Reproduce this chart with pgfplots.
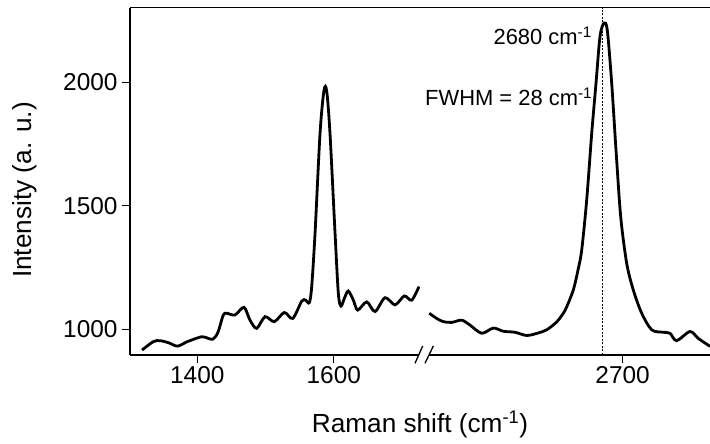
\documentclass[border=0pt]{standalone}
\usepackage{fontspec}
\setmainfont{Liberation Sans}
\usepackage{pgfplots}
\pgfplotsset{compat=1.18}
\pgfplotstableread{
x y
1319 916
1335.5 950
1345.3 954
1357.5 946
1371 932
1384.5 949
1406.4 970
1416.1 963
1422.6 960
1428.4 977
1432 1002
1438.1 1058
1443.1 1065
1455.2 1058
1468.4 1089
1477.2 1037
1487 1004
1499.2 1051
1512.8 1031
1527.5 1068
1539.8 1044
1553 1114
1558.8 1118
1564.1 1108
1567.6 1173
1572.5 1389
1579.8 1793
1585.6 1967
1589.6 1964
1594.4 1793
1601.8 1389
1606.6 1146
1610.5 1094
1615.4 1125
1621.2 1155
1628.6 1118
1635 1078
1648.2 1111
1660.4 1072
1675 1128
1689.7 1099
1703.3 1135
1714.1 1118
1724.8 1173
}\leftdata
\pgfplotstableread{
x y
2506.7 1065
2514.1 1044
2520.7 1031
2529.1 1028
2539.1 1037
2547.4 1017
2559.1 984
2570.7 1005
2580.7 992
2592.4 988
2604.1 975
2615.4 985
2624.1 998
2634.1 1030
2640.7 1065
2644.1 1091
2650.7 1159
2655.4 1240
2659.1 1321
2664.1 1524
2669.1 1793
2673.4 1996
2677.4 2185
2681.4 2240
2684.7 2210
2689.1 1996
2693.4 1726
2698.1 1456
2704.1 1267
2710.7 1159
2719.1 1065
2729.1 998
2740.7 988
2747.4 984
2754.0 954
2767.4 991
2775.7 963
2787.4 931
}\rightdata
\begin{document}
\begin{tikzpicture}
\useasboundingbox (0bp,0bp) rectangle (710bp,444bp);
\pgfplotsset{
  every axis/.append style={
    scale only axis, height=347.3bp, ymin=896, ymax=2302,
    axis line style={line width=1.3bp},
    tick style={line width=1.3bp, black},
    major tick length=8bp,
    clip=false,
    /pgf/number format/assume math mode=true,
    /pgf/number format/1000 sep={},
    tick label style={font=\fontsize{24.5}{28}\selectfont},
    anchor=south west,
  }
}
\begin{axis}[at={(130bp,89bp)}, width=289bp, xmin=1301.4, xmax=1724.8,
  axis x line*=bottom, axis y line*=left, tick align=outside,
  xtick={1400,1600}, ytick={1000,1500,2000},
  yticklabel style={xshift=-1bp}]
\addplot[line width=2.8bp, smooth, tension=0.5] table {\leftdata};
\end{axis}
\begin{axis}[at={(429bp,89bp)}, width=281bp, xmin=2506.4, xmax=2787.4,
  axis x line*=bottom, hide y axis, tick align=outside,
  xtick={2700}, ytick=\empty]
\addplot[line width=0.9bp, dash pattern=on 2bp off 1.5bp] coordinates {(2680,896) (2680,2302)};
\addplot[line width=2.8bp, smooth, tension=0.5] table {\rightdata};
\end{axis}
\draw[line width=1.3bp] (130bp,436.3bp) -- (710bp,436.3bp);
\draw[line width=1.3bp] (415bp,80.7bp) -- (422.7bp,98bp);
\draw[line width=1.3bp] (425bp,80.7bp) -- (433.3bp,98bp);
\node[anchor=base east, inner sep=0pt, font=\fontsize{22}{26}\selectfont] at (592bp,399bp) {2680 cm\textsuperscript{-1}};
\node[anchor=base west, inner sep=0pt, font=\fontsize{22}{26}\selectfont] at (425bp,338bp) {FWHM = 28 cm\textsuperscript{-1}};
\node[anchor=base, inner sep=0pt, font=\fontsize{26.3}{30}\selectfont] at (420bp,12bp) {Raman shift (cm\textsuperscript{-1})};
\node[anchor=center, rotate=90, inner sep=0pt, font=\fontsize{26.3}{30}\selectfont] at (25bp,254bp) {Intensity (a. u.)};
\end{tikzpicture}
\end{document}
